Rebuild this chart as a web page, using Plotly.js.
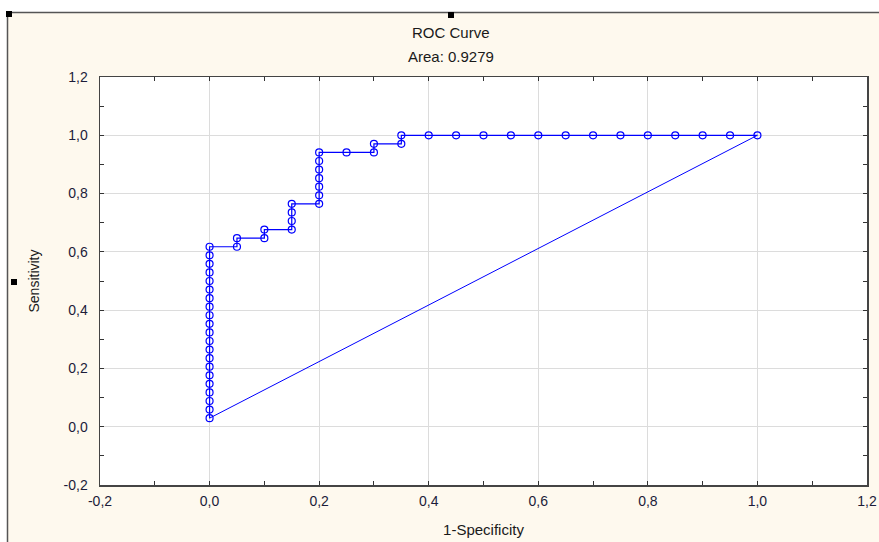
<!DOCTYPE html>
<html>
<head>
<meta charset="utf-8">
<script src="https://cdn.plot.ly/plotly-3.0.1.min.js"></script>
<style>html,body{margin:0;padding:0;background:#fff;}#chart{width:879px;height:542px;}</style>
</head>
<body>
<div id="chart"></div>
<script>
// ROC curve points: 1-Specificity (x) and Sensitivity (y)
var specComplement = [
  0,0,0,0,0,0,0,0,0,0,0,0,0,0,0,0,0,0,0,0,0,
  0.05,0.05,
  0.1,0.1,
  0.15,0.15,0.15,0.15,
  0.2,0.2,0.2,0.2,0.2,0.2,0.2,
  0.25,
  0.3,0.3,
  0.35,0.35,
  0.4,0.45,0.5,0.55,0.6,0.65,0.7,0.75,0.8,0.85,0.9,0.95,1.0
];
var sensitivity = [
  0.0294,0.0588,0.0882,0.1176,0.1471,0.1765,0.2059,0.2353,0.2647,0.2941,
  0.3235,0.3529,0.3824,0.4118,0.4412,0.4706,0.5,0.5294,0.5588,0.5882,0.6176,
  0.6176,0.6471,
  0.6471,0.6765,
  0.6765,0.7059,0.7353,0.7647,
  0.7647,0.7941,0.8235,0.8529,0.8824,0.9118,0.9412,
  0.9412,
  0.9412,0.9706,
  0.9706,1.0,
  1.0,1.0,1.0,1.0,1.0,1.0,1.0,1.0,1.0,1.0,1.0,1.0,1.0
];
// reference line
var refX = [0, 1.0];
var refY = [0.0294, 1.0];

var tickVals = [-0.2,0,0.2,0.4,0.6,0.8,1.0,1.2];
var tickText = ['-0,2','0,0','0,2','0,4','0,6','0,8','1,0','1,2'];

var chartTitle = 'ROC Curve';
var areaText = 'Area: 0.9279';
var xTitle = '1-Specificity';
var yTitle = 'Sensitivity';

var BLUE = '#0000ff';
var FONT = '"Liberation Sans Narrow", "Liberation Sans", Arial, sans-serif';

var traces = [
  {x: refX, y: refY, type: 'scatter', mode: 'lines',
   line: {color: BLUE, width: 1}, hoverinfo: 'skip', showlegend: false},
  {x: specComplement, y: sensitivity, type: 'scatter', mode: 'lines+markers',
   line: {color: BLUE, width: 1.2},
   marker: {symbol: 'circle-open', size: 7, color: BLUE, line: {width: 1.2, color: BLUE}},
   showlegend: false}
];

// pixel -> paper helpers (plot area: x 100..867, y 77..485)
function px(x){ return (x-100)/767; }
function py(y){ return (485-y)/408; }

var axisCommon = {
  range: [-0.2, 1.2], autorange: false,
  tickmode: 'array', tickvals: tickVals, ticktext: tickText,
  ticks: 'inside', ticklen: 4, tickwidth: 1, tickcolor: '#333',
  showline: true, linecolor: '#444', linewidth: 1.5, mirror: 'allticks',
  showgrid: true, gridcolor: '#dcdcdc', gridwidth: 1,
  zeroline: false,
  minor: {dtick: 0.1, tick0: 0, ticks: 'inside', ticklen: 4, tickcolor: '#333', showgrid: false},
  tickfont: {family: FONT, size: 14, color: '#1c1c3a'}
};

var layout = {
  width: 879, height: 542,
  margin: {l: 100, r: 12, t: 77, b: 57},
  paper_bgcolor: '#fef9ee',
  plot_bgcolor: '#ffffff',
  separators: ', ',
  xaxis: Object.assign({}, axisCommon, {
    ticklabelstandoff: 3,
    title: {text: xTitle, font: {family: FONT, size: 15, color: '#1a1a1a'}, standoff: 16}
  }),
  yaxis: Object.assign({}, axisCommon, {
    ticklabelstandoff: 8,
    title: {text: yTitle, font: {family: FONT, size: 14, color: '#1a1a1a'}, standoff: 20}
  }),
  annotations: [
    {text: chartTitle, xref: 'paper', yref: 'paper', x: px(451), y: py(33),
     xanchor: 'center', yanchor: 'middle', showarrow: false,
     font: {family: FONT, size: 15, color: '#1a1a1a'}},
    {text: areaText, xref: 'paper', yref: 'paper', x: px(451), y: py(57),
     xanchor: 'center', yanchor: 'middle', showarrow: false,
     font: {family: FONT, size: 15, color: '#1a1a1a'}}
  ],
  shapes: [
    // white strips outside the outer frame
    {type: 'rect', xref: 'paper', yref: 'paper', x0: px(-5), x1: px(890), y0: py(12), y1: py(-5),
     fillcolor: '#ffffff', line: {width: 0}, layer: 'below'},
    {type: 'rect', xref: 'paper', yref: 'paper', x0: px(-5), x1: px(7), y0: py(560), y1: py(-5),
     fillcolor: '#ffffff', line: {width: 0}, layer: 'below'},
    // outer frame
    {type: 'rect', xref: 'paper', yref: 'paper', x0: px(7.5), x1: px(895), y0: py(560), y1: py(12.5),
     fillcolor: 'rgba(0,0,0,0)', line: {color: '#555', width: 1.5}},
    // selection handles
    {type: 'rect', xref: 'paper', yref: 'paper', x0: px(6), x1: px(12), y0: py(17), y1: py(11),
     fillcolor: '#000', line: {width: 0}},
    {type: 'rect', xref: 'paper', yref: 'paper', x0: px(448), x1: px(454), y0: py(18), y1: py(12),
     fillcolor: '#000', line: {width: 0}},
    {type: 'rect', xref: 'paper', yref: 'paper', x0: px(11), x1: px(17), y0: py(285), y1: py(279),
     fillcolor: '#000', line: {width: 0}}
  ]
};

Plotly.newPlot('chart', traces, layout, {displayModeBar: false, staticPlot: true});
</script>
</body>
</html>
